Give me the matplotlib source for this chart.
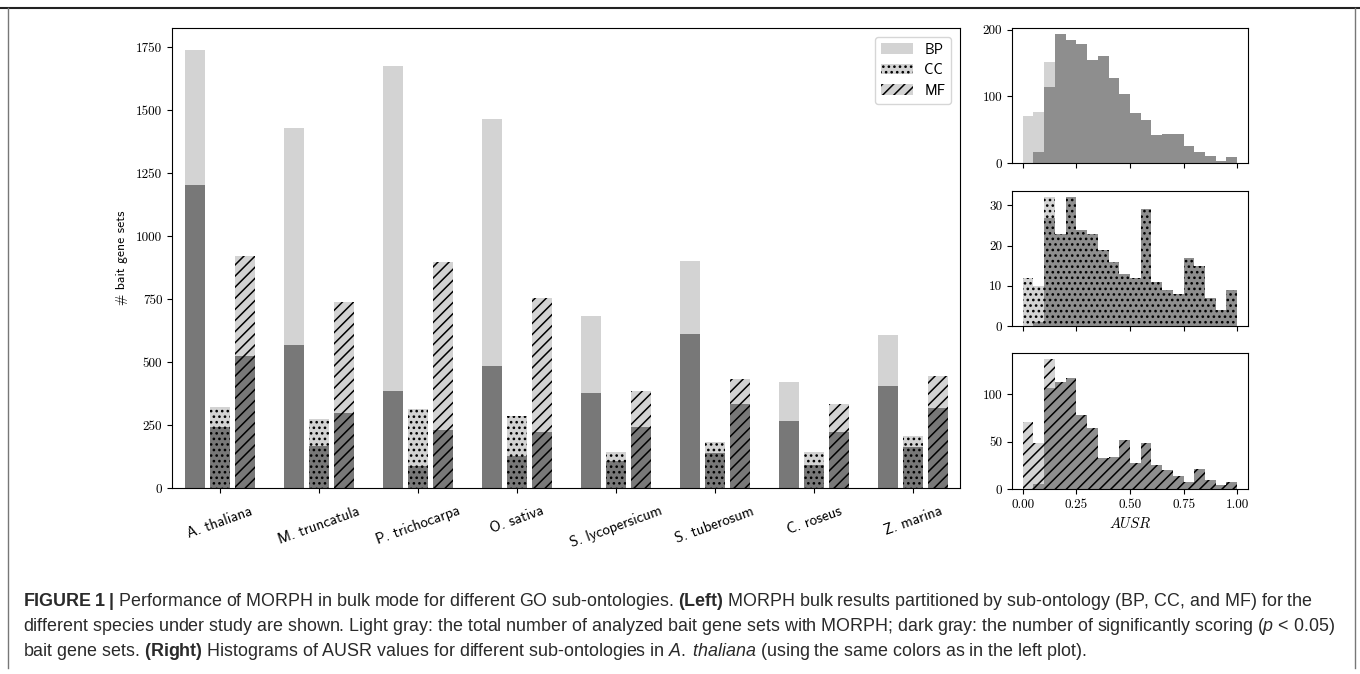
import numpy as np
import matplotlib.pyplot as plt
from matplotlib.patches import Patch
from matplotlib.lines import Line2D

plt.rcParams['mathtext.fontset'] = 'custom'
plt.rcParams['mathtext.rm'] = 'Liberation Sans'
plt.rcParams['mathtext.it'] = 'Liberation Sans:italic'
plt.rcParams['mathtext.bf'] = 'Liberation Sans:bold'
plt.rcParams['hatch.linewidth'] = 1.1

species = ['A. thaliana', 'M. truncatula', 'P. trichocarpa', 'O. sativa',
           'S. lycopersicum', 'S. tuberosum', 'C. roseus', 'Z. marina']
# total analysed (light) and significant (dark) bait gene sets
bp_total = [1740, 1430, 1676, 1466, 684, 903, 419, 608]
bp_sig = [1205, 567, 384, 483, 376, 610, 265, 406]
cc_total = [323, 272, 312, 286, 144, 181, 142, 208]
cc_sig = [241, 167, 87, 127, 107, 140, 93, 161]
mf_total = [922, 739, 896, 755, 386, 434, 335, 444]
mf_sig = [524, 296, 230, 224, 241, 335, 224, 316]

# AUSR histograms for A. thaliana, 20 bins over [0, 1]
bin_edges = np.linspace(0, 1, 21)
bp_hist_all = [71, 76, 151, 193, 184, 178, 155, 161, 127, 104, 75, 64, 42, 43, 43, 25, 17, 11, 3, 9]
bp_hist_sig = [0, 16, 114, 193, 184, 178, 155, 161, 127, 104, 75, 64, 42, 43, 43, 25, 17, 11, 3, 9]
cc_hist_all = [12, 10, 32, 23, 32, 24, 23, 19, 16, 13, 12, 29, 11, 9, 8, 17, 15, 7, 4, 9]
cc_hist_sig = [0, 1, 27, 23, 32, 24, 23, 19, 16, 13, 12, 29, 11, 9, 8, 17, 15, 7, 4, 9]
mf_hist_all = [71, 49, 137, 113, 117, 78, 65, 33, 34, 52, 27, 49, 25, 20, 14, 7, 21, 9, 4, 7]
mf_hist_sig = [0, 5, 107, 113, 117, 78, 65, 33, 34, 52, 27, 49, 25, 20, 14, 7, 21, 9, 4, 7]

light = '#d3d3d3'
dark_bar = '#787878'
dark_hist = '#8e8e8e'
tick_font = 'cmr10'
sans_font = ['cmss10', 'DejaVu Sans']
dots = '...'
lines = '///'

fig = plt.figure(figsize=(13.6, 6.74), dpi=100)

# ---- left: bar chart ----
ax = fig.add_axes([0.1265, 0.2760, 0.5794, 0.6825])
x = np.arange(len(species))
w = 0.2
for off, tot, sig, hatch in [(-0.25, bp_total, bp_sig, None),
                             (0.0, cc_total, cc_sig, dots),
                             (0.25, mf_total, mf_sig, lines)]:
    ax.bar(x + off, tot, w, color=light, hatch=hatch, linewidth=0)
    ax.bar(x + off, sig, w, color=dark_bar, hatch=hatch, linewidth=0)
ax.set_xlim(-0.485, 7.475)
ax.set_ylim(0, 1827)
ax.set_yticks([0, 250, 500, 750, 1000, 1250, 1500, 1750])
ax.set_xticks(x)
ax.set_xticklabels(species, rotation=20, ha='center', family=sans_font, fontsize=10.8)
ax.tick_params(axis='x', pad=8)
for t in ax.get_yticklabels():
    t.set_family(tick_font)
    t.set_fontsize(9.5)
ax.set_ylabel('# bait gene sets', family=sans_font, fontsize=9.8, labelpad=6)

handles = [Patch(facecolor=light, label='BP'),
           Patch(facecolor=light, hatch=dots, label='CC'),
           Patch(facecolor=light, hatch=lines, label='MF')]
ax.legend(handles=handles, loc='upper right', prop={'family': sans_font, 'size': 10.5},
          handlelength=2.2, borderaxespad=0.6, labelspacing=0.45)

# ---- right: histograms ----
hists = [(bp_hist_all, bp_hist_sig, None, [0, 100, 200], [0.7582, 0.2003]),
         (cc_hist_all, cc_hist_sig, dots, [0, 10, 20, 30], [0.5163, 0.2003]),
         (mf_hist_all, mf_hist_sig, lines, [0, 50, 100], [0.2745, 0.2018])]
for i, (h_all, h_sig, hatch, yt, (b, hgt)) in enumerate(hists):
    hx = fig.add_axes([0.7441, b, 0.1735, hgt])
    hx.bar(bin_edges[:-1], h_all, 0.05, align='edge', color=light, hatch=hatch, linewidth=0)
    hx.bar(bin_edges[:-1], h_sig, 0.05, align='edge', color=dark_hist, hatch=hatch, linewidth=0)
    hx.set_xlim(-0.05, 1.05)
    hx.set_ylim(0, max(h_all) * 1.05)
    hx.set_yticks(yt)
    hx.set_xticks([0, 0.25, 0.5, 0.75, 1.0])
    if i < 2:
        hx.set_xticklabels([])
    else:
        hx.set_xticklabels(['0.00', '0.25', '0.50', '0.75', '1.00'])
        hx.set_xlabel('$AUSR$', math_fontfamily='cm', fontsize=10.5)
    for t in hx.get_xticklabels() + hx.get_yticklabels():
        t.set_family(tick_font)
        t.set_fontsize(9.5)

# ---- frame and caption ----
def px(xp, yp):
    return xp / 1360, 1 - yp / 674

fig.add_artist(Line2D([0, 1], [px(0, 8)[1]] * 2, color='#222222', lw=1.5))
fig.add_artist(Line2D([px(8, 0)[0]] * 2, [px(0, 8)[1], px(0, 668)[1]], color='#777777', lw=1))
fig.add_artist(Line2D([px(1355, 0)[0]] * 2, [px(0, 8)[1], px(0, 668)[1]], color='#777777', lw=1))

caption = [
    r'$\mathbf{FIGURE\;1\;|}$ Performance of MORPH in bulk mode for different GO sub-ontologies. '
    r'$\mathbf{(Left)}$ MORPH bulk results partitioned by sub-ontology (BP, CC, and MF) for the',
    r'different species under study are shown. Light gray: the total number of analyzed bait gene sets '
    r'with MORPH; dark gray: the number of significantly scoring ($\mathit{p}$ < 0.05)',
    r'bait gene sets. $\mathbf{(Right)}$ Histograms of AUSR values for different sub-ontologies in '
    r'$\mathit{A.\;thaliana}$ (using the same colors as in the left plot).',
]
for k, line in enumerate(caption):
    xx, yy = px(23, 602 + k * 24.5)
    fig.text(xx, yy, line, family='Liberation Sans', fontsize=12.9, va='center', color='#2a2a2a')

fig.savefig('out.png', dpi=100)
